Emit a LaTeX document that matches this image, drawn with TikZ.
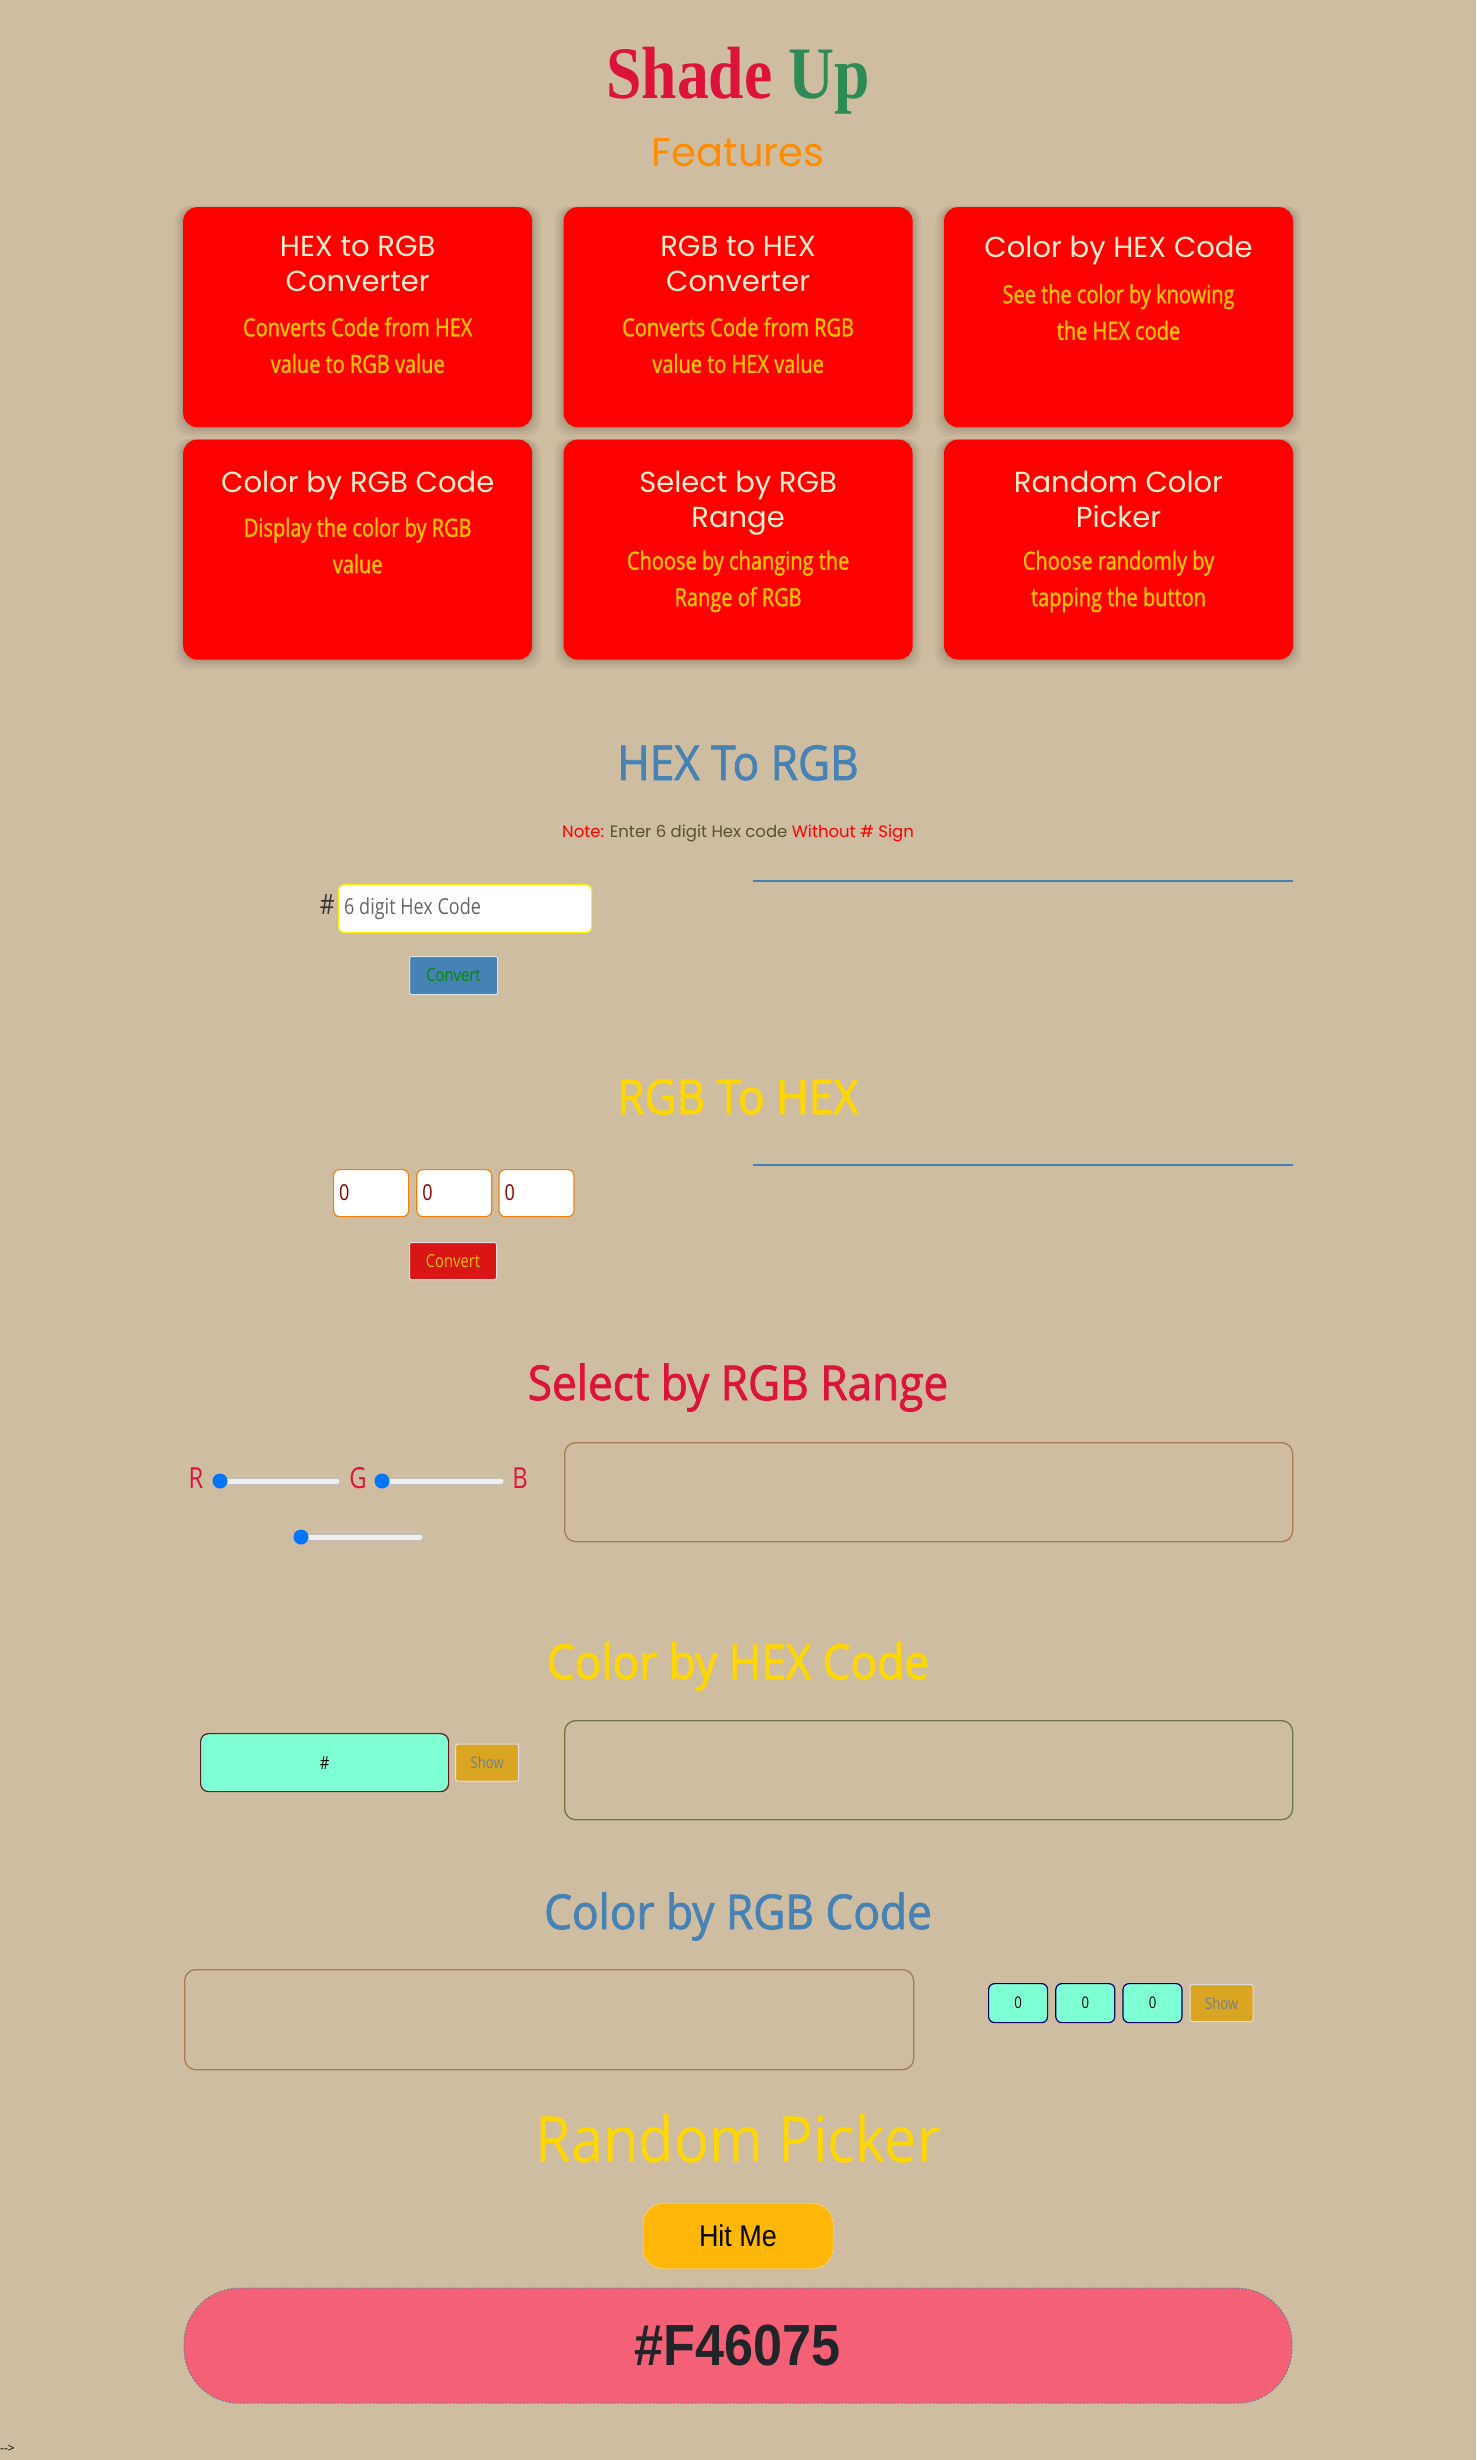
\documentclass[tikz,border=0pt]{standalone}
\usepackage{fontspec}
\setmainfont{Open Sans}
\newfontfamily\cardfont{Poppins}
\newfontfamily\narrowfont[FakeStretch=0.82]{Open Sans}
\newfontfamily\descfont[FakeStretch=0.8, FakeBold=1.2]{Open Sans}
\newfontfamily\headfont[FakeStretch=0.92, FakeBold=1.6]{Open Sans}
\newfontfamily\lightfont[FakeStretch=0.905]{Open Sans}
\newfontfamily\handfont[FakeStretch=0.9]{Liberation Sans}
\newfontfamily\brandfont[FakeStretch=0.86]{Liberation Serif}
\usetikzlibrary{positioning, shadows}

\definecolor{pagebg}{RGB}{207,189,161}
\definecolor{cardred}{RGB}{255,0,0}
\definecolor{cardtitle}{RGB}{255,236,204}
\definecolor{carddesc}{RGB}{255,196,0}
\definecolor{shadecrimson}{RGB}{220,20,60}
\definecolor{upgreen}{RGB}{46,139,87}
\definecolor{featorange}{RGB}{255,140,0}
\definecolor{steel}{RGB}{70,130,180}
\definecolor{goldhead}{RGB}{255,215,0}
\definecolor{aqua}{RGB}{127,255,212}
\definecolor{goldbtn}{RGB}{218,165,32}
\definecolor{slate}{RGB}{112,128,144}
\definecolor{boxbrown}{RGB}{166,124,82}
\definecolor{boxolive}{RGB}{107,120,66}
\definecolor{hitamber}{RGB}{255,183,10}
\definecolor{pickpink}{RGB}{244,96,117}
\definecolor{thumbblue}{RGB}{0,117,255}
\definecolor{trackgray}{RGB}{239,239,239}
\definecolor{noteolive}{RGB}{90,80,50}
\definecolor{inkdark}{RGB}{33,37,41}

\begin{document}
\begin{tikzpicture}[
    x=1pt, y=-1pt,
    card/.style={fill=cardred, rounded corners=14pt, minimum width=349pt, minimum height=220pt, inner sep=0pt, anchor=north west,
        drop shadow={shadow xshift=0pt, shadow yshift=-4pt, shadow scale=1.05, opacity=0.035, fill=black},
        drop shadow={shadow xshift=0pt, shadow yshift=-3pt, shadow scale=1.035, opacity=0.04, fill=black},
        drop shadow={shadow xshift=0pt, shadow yshift=-2pt, shadow scale=1.02, opacity=0.05, fill=black},
        drop shadow={shadow xshift=0pt, shadow yshift=-1pt, shadow scale=1.008, opacity=0.06, fill=black}},
    cardhead/.style={align=center, text=cardtitle, font=\cardfont\fontsize{29}{35}\selectfont, inner sep=0pt},
    carddesc/.style={align=center, text=carddesc, font=\descfont\fontsize{25}{36.5}\selectfont, inner sep=0pt},
    heading/.style={font=\headfont\fontsize{48}{58}\selectfont, inner sep=0pt, anchor=base},
    field/.style={draw, fill=white, rounded corners=6pt, inner sep=0pt, anchor=north west, line width=1.2pt},
    btn/.style={draw=white!75!gray, rounded corners=2pt, inner sep=0pt, anchor=north west, line width=1pt, font=\narrowfont\fontsize{18}{20}\selectfont},
    outbox/.style={draw, rounded corners=11pt, line width=1.3pt, inner sep=0pt, anchor=north west},
    fieldtext/.style={inner sep=0pt, font=\narrowfont\fontsize{22}{24}\selectfont}
]
    \useasboundingbox (0,0) rectangle (1476,2460);
    \fill[pagebg] (0,0) rectangle (1476,2460);

    % HEADER
    \node[anchor=base, inner sep=0pt, font=\brandfont\bfseries\fontsize{74}{78}\selectfont] (brand) at (738,98) {\textcolor{shadecrimson}{Shade} \textcolor{upgreen}{Up}};
    \node[anchor=base, inner sep=0pt, text=featorange, font=\cardfont\fontsize{40}{44}\selectfont] (features) at (738,166) {Features};

    % CARDS
    \node[card] (hex_rgb) at (183,207) {};
    \node[card, right=31pt of hex_rgb] (rgb_hex) {};
    \node[card, right=31pt of rgb_hex] (hex_color) {};
    \node[card, below=12pt of hex_rgb] (rgb_color) {};
    \node[card, right=31pt of rgb_color] (rgb_range) {};
    \node[card, right=31pt of rgb_range] (rand_color) {};

    \node[cardhead, below=29pt of hex_rgb.north] (hex_rgb_title) {HEX to RGB\\Converter};
    \node[carddesc, below=110pt of hex_rgb.north] (hex_rgb_desc) {Converts Code from HEX\\value to RGB value};
    \node[cardhead, below=29pt of rgb_hex.north] (rgb_hex_title) {RGB to HEX\\Converter};
    \node[carddesc, below=110pt of rgb_hex.north] (rgb_hex_desc) {Converts Code from RGB\\value to HEX value};
    \node[cardhead, below=29pt of hex_color.north] (hex_color_title) {Color by HEX Code};
    \node[carddesc, below=77pt of hex_color.north] (hex_color_desc) {See the color by knowing\\the HEX code};

    \node[cardhead, below=31pt of rgb_color.north] (rgb_color_title) {Color by RGB Code};
    \node[carddesc, below=78pt of rgb_color.north] (rgb_color_desc) {Display the color by RGB\\value};
    \node[cardhead, below=31pt of rgb_range.north] (rgb_range_title) {Select by RGB\\Range};
    \node[carddesc, below=111pt of rgb_range.north] (rgb_range_desc) {Choose by changing the\\Range of RGB};
    \node[cardhead, below=31pt of rand_color.north] (rand_color_title) {Random Color\\Picker};
    \node[carddesc, below=111pt of rand_color.north] (rand_color_desc) {Choose randomly by\\tapping the button};

    % HEX TO RGB
    \node[heading, text=steel] (hex_rgb_head) at (738,780) {HEX To RGB};
    \node[anchor=base, inner sep=0pt, font=\cardfont\fontsize{16.5}{18}\selectfont] (hex_note) at (738,837)
        {\textcolor{red}{Note:} \textcolor{noteolive}{Enter 6 digit Hex code} \textcolor{red}{Without \# Sign}};
    \node[field, draw=yellow, minimum width=253pt, minimum height=48pt] (hex_input) at (338,884) {};
    \node[fieldtext, anchor=west, text=black!60, right=6pt of hex_input.west] (hex_hint) {6 digit Hex Code};
    \node[fieldtext, anchor=east, text=black!80, font=\narrowfont\fontsize{28}{30}\selectfont, left=3pt of hex_input.west, yshift=4pt] (hex_sign) {\#};
    \node[btn, fill=steel, text=green!55!black, minimum width=88pt, minimum height=38pt] (hex_convert) at (409,956) {Convert};
    \draw[steel, line width=2pt] (753,881) -- (1293,881);

    % RGB TO HEX
    \node[heading, text=goldhead] (rgb_hex_head) at (738,1114) {RGB To HEX};
    \node[field, draw=orange!80!brown, minimum width=75pt, minimum height=47pt] (r_input) at (333,1169) {};
    \node[field, draw=orange!80!brown, minimum width=75pt, minimum height=47pt, right=7pt of r_input] (g_input) {};
    \node[field, draw=orange!80!brown, minimum width=75pt, minimum height=47pt, right=6pt of g_input] (b_input) {};
    \node[fieldtext, text=red!55!black, right=6pt of r_input.west] (r_value) {0};
    \node[fieldtext, text=red!55!black, right=6pt of g_input.west] (g_value) {0};
    \node[fieldtext, text=red!55!black, right=6pt of b_input.west] (b_value) {0};
    \node[btn, fill={rgb,255:red,217;green,21;blue,21}, text={rgb,255:red,225;green,190;blue,0}, minimum width=87pt, minimum height=37pt] (rgb_convert) at (409,1242) {Convert};
    \draw[steel, line width=2pt] (753,1165) -- (1293,1165);

    % SELECT BY RGB RANGE
    \node[heading, text=shadecrimson] (range_head) at (738,1400) {Select by RGB Range};
    \node[inner sep=0pt, text=shadecrimson, font=\narrowfont\fontsize{29}{30}\selectfont] (r_label) at (196,1478) {R};
    \node[inner sep=0pt, text=shadecrimson, font=\narrowfont\fontsize{29}{30}\selectfont] (g_label) at (358,1478) {G};
    \node[inner sep=0pt, text=shadecrimson, font=\narrowfont\fontsize{29}{30}\selectfont] (b_label) at (520,1478) {B};
    \foreach \sx/\ex/\sy in {220/337/1481, 382/501/1481, 301/420/1537} {
        \draw[black!25, line width=7pt, line cap=round] (\sx,\sy) -- (\ex,\sy);
        \draw[trackgray, line width=5pt, line cap=round] (\sx,\sy) -- (\ex,\sy);
        \fill[thumbblue] (\sx,\sy) circle (7.5pt);
    }
    \node[outbox, draw=boxbrown, minimum width=728pt, minimum height=99pt] (range_out) at (564,1442) {};

    % COLOR BY HEX CODE
    \node[heading, text=goldhead] (hex_code_head) at (738,1679) {Color by HEX Code};
    \node[field, fill=aqua, draw={rgb,255:red,92;green,30;blue,30}, rounded corners=8pt, minimum width=248pt, minimum height=58pt] (hex_field) at (200,1733) {};
    \node[inner sep=0pt, font=\narrowfont\fontsize{18}{20}\selectfont] (hex_field_text) at (hex_field) {\#};
    \node[btn, fill=goldbtn, text=slate, anchor=west, minimum width=63pt, minimum height=37pt, font=\narrowfont\fontsize{16}{18}\selectfont, right=6pt of hex_field] (hex_show) {Show};
    \node[outbox, draw=boxolive, minimum width=728pt, minimum height=99pt] (hex_out) at (564,1720) {};

    % COLOR BY RGB CODE
    \node[heading, text=steel] (rgb_code_head) at (738,1929) {Color by RGB Code};
    \node[outbox, draw=boxbrown, minimum width=729pt, minimum height=100pt] (rgb_out) at (184,1969) {};
    \node[field, fill=aqua, draw=blue!40!black, minimum width=59pt, minimum height=39pt, font=\narrowfont\fontsize{16}{18}\selectfont] (r_field) at (988,1983) {0};
    \node[field, fill=aqua, draw=blue!40!black, minimum width=59pt, minimum height=39pt, font=\narrowfont\fontsize{16}{18}\selectfont, right=7pt of r_field] (g_field) {0};
    \node[field, fill=aqua, draw=blue!40!black, minimum width=59pt, minimum height=39pt, font=\narrowfont\fontsize{16}{18}\selectfont, right=7pt of g_field] (b_field) {0};
    \node[btn, fill=goldbtn, text=slate, minimum width=63pt, minimum height=37pt, font=\narrowfont\fontsize{16}{18}\selectfont, right=7pt of b_field] (rgb_show) {Show};

    % RANDOM PICKER
    \node[heading, text=goldhead, font=\lightfont\fontsize{64}{70}\selectfont] (random_head) at (738,2162) {Random Picker};
    \node[fill=hitamber, draw={rgb,255:red,255;green,222;blue,130}, rounded corners=20pt, minimum width=190pt, minimum height=65pt, inner sep=0pt, font=\handfont\fontsize{30}{32}\selectfont] (hit_me) at (738,2236) {Hit Me};
    \node[fill=pickpink, draw=slate, dash pattern=on 2pt off 1.5pt, line width=1pt, rounded corners=55pt, minimum width=1108pt, minimum height=115pt, inner sep=0pt, text=inkdark, font=\handfont\bfseries\fontsize{58}{62}\selectfont, below=19pt of hit_me] (pick_out) {\#F46075};

    \node[anchor=west, inner sep=0pt, font=\fontsize{12}{14}\selectfont] (tail) at (0,2449) {-{}-{}>};
\end{tikzpicture}
\end{document}
